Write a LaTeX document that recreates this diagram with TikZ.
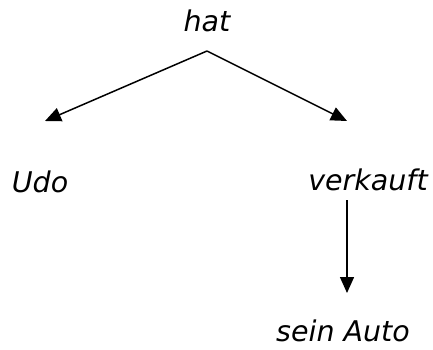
\documentclass[tikz,border=0pt]{standalone}
\usepackage{fontspec}
\setmainfont{DejaVu Sans}
\usepackage{xcolor}
\usepackage{tikz}
\usetikzlibrary{arrows.meta}
\definecolor{ink}{HTML}{000000}
\tikzset{
  word/.style={text=ink, font=\fontsize{28.5}{31}\selectfont\itshape, inner sep=0pt, anchor=base},
  arr/.style={draw=ink, line width=1.5pt, -{Triangle[length=16pt,width=14pt]}},
}

\begin{document}
\begin{tikzpicture}[x=1pt,y=-1pt]
  \useasboundingbox (0,0) rectangle (433,349);
  \node[word] (hat) at (207,31) {hat};
  \node[word] (udo) at (40,192) {Udo};
  \node[word] (verkauft) at (368,190) {verkauft};
  \node[word] (auto) at (343,341) {sein Auto};
  \coordinate (top) at (207,51);
  \coordinate (udoin) at (45,121);
  \coordinate (verkin) at (347,121);
  \coordinate (verkout) at (347,200);
  \coordinate (autoin) at (347,293);
  \draw[arr] (top) -- (udoin);
  \draw[arr] (top) -- (verkin);
  \draw[arr] (verkout) -- (autoin);
\end{tikzpicture}
\end{document}
